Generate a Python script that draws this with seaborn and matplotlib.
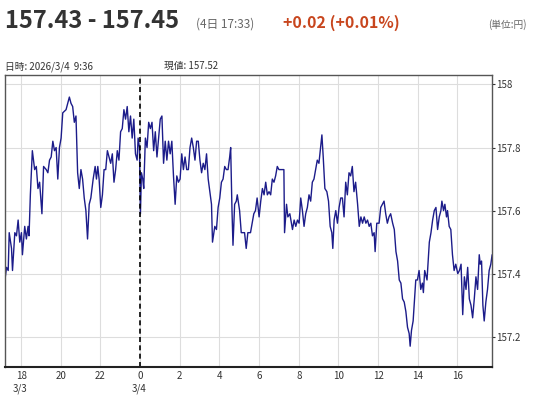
import pandas as pd
import matplotlib
matplotlib.use("Agg")
import matplotlib.pyplot as plt
import seaborn as sns

# minutes since 2026/3/3 0:00, price (JPY)
minutes = [
    1031, 1036, 1041, 1044, 1051, 1054, 1061, 1066, 1071, 1076, 1081, 1084, 1091, 1096, 1101, 1104,
    1108, 1114, 1121, 1126, 1131, 1136, 1143, 1148, 1156, 1161, 1166, 1171, 1176, 1181, 1186, 1191,
    1196, 1201, 1206, 1216, 1221, 1226, 1231, 1236, 1241, 1246, 1251, 1256, 1261, 1266, 1271, 1276,
    1281, 1286, 1291, 1298, 1304, 1308, 1312, 1316, 1321, 1326, 1331, 1336, 1341, 1346, 1351, 1356,
    1361, 1366, 1371, 1376, 1381, 1386, 1391, 1396, 1401, 1406, 1411, 1416, 1421, 1426, 1431, 1434,
    1438, 1441, 1444, 1448, 1451, 1456, 1461, 1466, 1471, 1476, 1481, 1486, 1491, 1496, 1501, 1506,
    1511, 1516, 1521, 1526, 1531, 1536, 1541, 1546, 1551, 1556, 1561, 1566, 1571, 1576, 1581, 1586,
    1591, 1596, 1601, 1606, 1611, 1616, 1621, 1626, 1631, 1636, 1641, 1646, 1656, 1659, 1666, 1671,
    1676, 1681, 1686, 1691, 1696, 1701, 1706, 1711, 1714, 1718, 1721, 1726, 1731, 1734, 1741, 1746,
    1756, 1761, 1766,
    1774, 1784, 1789, 1794, 1800, 1805, 1810, 1815, 1820, 1825, 1830, 1835, 1840, 1845, 1850, 1855,
    1860, 1875, 1877, 1883, 1887, 1893, 1901, 1906, 1911, 1916, 1921, 1926, 1931, 1936, 1941, 1946,
    1951, 1956, 1961, 1966, 1971, 1976, 1981, 1986, 1990, 1994, 1999, 2005, 2010, 2015, 2020, 2023,
    2027, 2032, 2037, 2042, 2047, 2052, 2057, 2062, 2067, 2072, 2077, 2082, 2087, 2092, 2098, 2103,
    2108, 2113, 2118, 2123, 2128, 2133, 2138, 2143, 2148, 2151, 2156, 2163, 2168, 2173, 2178, 2183,
    2188, 2193, 2198, 2204, 2209, 2214, 2219, 2224, 2229, 2234, 2239, 2244, 2249, 2254, 2257, 2261,
    2266, 2269, 2274, 2279, 2284, 2289, 2294, 2297, 2301, 2308, 2315, 2320, 2325, 2330, 2335, 2340,
    2345, 2350, 2353, 2358, 2362, 2367, 2370, 2375, 2380, 2385, 2390, 2395, 2401, 2406, 2411, 2416,
    2421, 2426, 2431, 2436, 2441, 2446, 2451, 2456, 2461, 2466, 2469, 2473, 2477, 2481, 2486, 2491,
    2496, 2501, 2505,
]
prices = [
    157.38, 157.42, 157.41, 157.53, 157.48, 157.41, 157.53, 157.52, 157.57, 157.50, 157.53, 157.46, 157.55, 157.51, 157.55, 157.52,
    157.65, 157.79, 157.73, 157.74, 157.67, 157.69, 157.59, 157.74, 157.73, 157.72, 157.76, 157.77, 157.82, 157.79, 157.80, 157.70,
    157.80, 157.83, 157.91, 157.92, 157.94, 157.96, 157.94, 157.93, 157.88, 157.90, 157.72, 157.67, 157.73, 157.70, 157.64, 157.60,
    157.51, 157.62, 157.64, 157.70, 157.74, 157.70, 157.74, 157.70, 157.61, 157.65, 157.73, 157.73, 157.79, 157.77, 157.75, 157.78,
    157.69, 157.73, 157.79, 157.76, 157.85, 157.86, 157.92, 157.89, 157.93, 157.85, 157.90, 157.83, 157.89, 157.78, 157.76, 157.83,
    157.80, 157.59, 157.72, 157.70, 157.67, 157.83, 157.80, 157.88, 157.86, 157.88, 157.79, 157.85, 157.77, 157.83, 157.89, 157.90,
    157.75, 157.82, 157.76, 157.82, 157.78, 157.82, 157.71, 157.62, 157.71, 157.69, 157.70, 157.78, 157.73, 157.77, 157.73, 157.73,
    157.80, 157.83, 157.80, 157.76, 157.82, 157.82, 157.76, 157.72, 157.75, 157.73, 157.78, 157.70, 157.62, 157.50, 157.55, 157.54,
    157.61, 157.64, 157.69, 157.70, 157.74, 157.73, 157.73, 157.77, 157.80, 157.60, 157.49, 157.62, 157.63, 157.65, 157.60, 157.53,
    157.53, 157.48, 157.53,
    157.53, 157.59, 157.60, 157.64, 157.58, 157.63, 157.67, 157.65, 157.69, 157.65, 157.66, 157.65, 157.70, 157.69, 157.71, 157.74,
    157.73, 157.73, 157.53, 157.62, 157.58, 157.59, 157.54, 157.57, 157.55, 157.57, 157.56, 157.64, 157.60, 157.55, 157.59, 157.61,
    157.65, 157.63, 157.69, 157.70, 157.73, 157.76, 157.75, 157.80, 157.84, 157.77, 157.67, 157.66, 157.63, 157.55, 157.53, 157.48,
    157.57, 157.60, 157.56, 157.61, 157.64, 157.64, 157.58, 157.69, 157.65, 157.72, 157.71, 157.74, 157.66, 157.69, 157.62, 157.55,
    157.58, 157.56, 157.58, 157.56, 157.57, 157.55, 157.56, 157.52, 157.53, 157.47, 157.56, 157.56, 157.61, 157.62, 157.63, 157.59,
    157.56, 157.58, 157.59, 157.56, 157.54, 157.47, 157.44, 157.38, 157.37, 157.32, 157.31, 157.28, 157.23, 157.21, 157.17, 157.22,
    157.25, 157.30, 157.38, 157.38, 157.41, 157.35, 157.37, 157.34, 157.41, 157.38, 157.50, 157.53, 157.57, 157.60, 157.61, 157.54,
    157.58, 157.60, 157.63, 157.60, 157.62, 157.58, 157.60, 157.55, 157.54, 157.46, 157.41, 157.43, 157.40, 157.41, 157.43, 157.27,
    157.39, 157.35, 157.42, 157.32, 157.30, 157.26, 157.32, 157.39, 157.35, 157.46, 157.43, 157.44, 157.30, 157.25, 157.31, 157.35,
    157.41, 157.43, 157.46,
]
hour_ticks = [18, 20, 22, 24, 26, 28, 30, 32, 34, 36, 38, 40]
price_ticks = [157.2, 157.4, 157.6, 157.8, 158.0]
price_labels = ["157.2", "157.4", "157.6", "157.8", "158"]

sns.set_style("white")
plt.rcParams['font.family'] = ['Noto Sans CJK JP', 'DejaVu Sans']

df = pd.DataFrame({"minute": minutes, "price": prices})

fig = plt.figure(figsize=(5.45, 4.0), dpi=100)
ax = fig.add_axes([0.009, 0.0825, 0.894, 0.73])
sns.lineplot(data=df, x="minute", y="price", ax=ax, color="#1c1c8a", linewidth=1.0, estimator=None)

ax.set_xlim(minutes[0], minutes[-1])
ax.set_ylim(157.104, 158.03)
ax.set_xticks([h * 60 for h in hour_ticks])
ax.set_xticklabels([str(h % 24) for h in hour_ticks])
ax.set_yticks(price_ticks)
ax.set_yticklabels(price_labels)
ax.yaxis.tick_right()
ax.grid(True, color="#dddddd", linewidth=0.8)
ax.axvline(24 * 60, color="black", linestyle=(0, (3, 2)), linewidth=1.2)
ax.tick_params(labelsize=7, length=2, colors="#333333", pad=1)
ax.set_xlabel("")
ax.set_ylabel("")
for s in ax.spines.values():
    s.set_color("#555555")
    s.set_linewidth(1.0)
ax.spines["bottom"].set_linewidth(1.5)
ax.spines["bottom"].set_color("#222222")

# date labels under hour ticks
for h, lab in [(18, "3/3"), (24, "3/4")]:
    ax.text(h * 60 - 25, -0.055, lab, transform=ax.get_xaxis_transform(), fontsize=7, color="#333333", ha="left", va="top")

fig.text(0.009, 0.93, "157.43 - 157.45", fontsize=17, fontweight="bold", color="#333333", va="baseline")
fig.text(0.36, 0.93, "(4日 17:33)", fontsize=8.5, color="#666666", va="baseline")
fig.text(0.52, 0.93, "+0.02 (+0.01%)", fontsize=11.5, fontweight="bold", color="#c8461e", va="baseline")
fig.text(0.895, 0.93, "(単位:円)", fontsize=7, color="#666666", va="baseline")
fig.text(0.009, 0.827, "日時: 2026/3/4  9:36", fontsize=7, color="#333333", va="baseline")
fig.text(0.30, 0.827, "現値: 157.52", fontsize=7, color="#333333", va="baseline")

fig.savefig("out.png", dpi=100)
